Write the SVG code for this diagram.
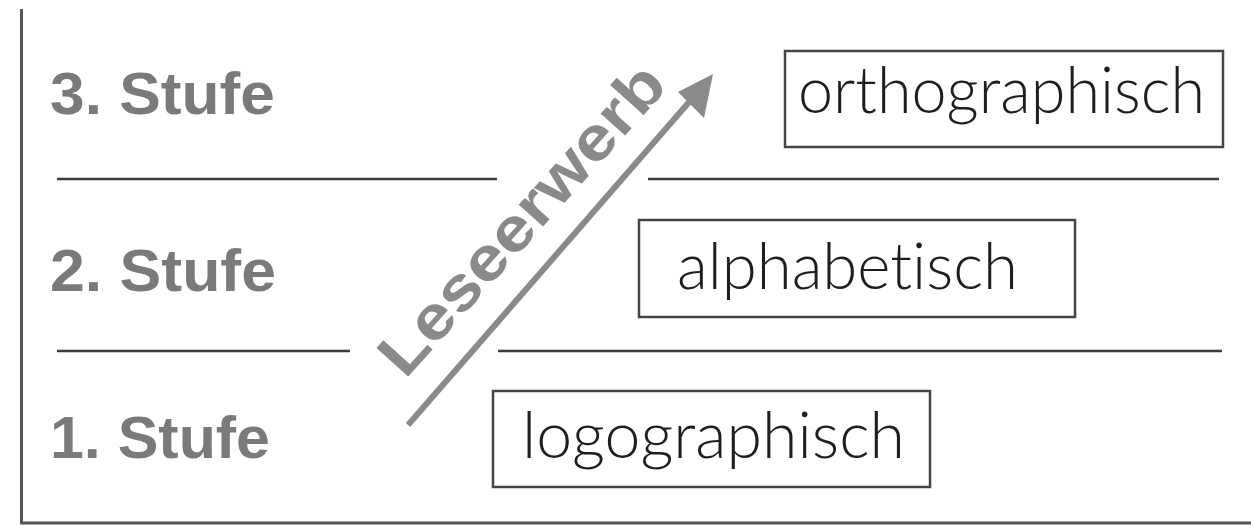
<svg xmlns="http://www.w3.org/2000/svg" width="1251" height="525" viewBox="0 0 1251 525">
<style>
.frame{stroke:#555;stroke-width:3;fill:none}
.sep{stroke:#3a3a3a;stroke-width:2.5;fill:none}
.box{fill:#fff;stroke:#444;stroke-width:2.5}
.lbl{font-family:"Liberation Sans",Arial,sans-serif;font-weight:bold;font-size:60px;fill:#7a7a7a}
.word{font-family:Lato,"Liberation Sans",Arial,sans-serif;font-weight:300;font-size:66px;fill:#1e1e1e;font-variant-ligatures:none;font-feature-settings:"liga" 0,"clig" 0,"dlig" 0}
.arr{stroke:#8a8a8a;stroke-width:6;fill:none}
.arrtxt{font-family:"Liberation Sans",Arial,sans-serif;font-weight:bold;font-size:62px;fill:#8a8a8a}
</style>
<rect width="1251" height="525" fill="#fff"/>
<g id="frame">
<path class="frame" d="M21.5 9 V523 H1251"/>
</g>
<g id="separators">
<line class="sep" x1="57" y1="179" x2="497" y2="179"/>
<line class="sep" x1="648" y1="179" x2="1219" y2="179"/>
<line class="sep" x1="57" y1="351" x2="350" y2="351"/>
<line class="sep" x1="498" y1="351" x2="1222" y2="351"/>
</g>
<g id="stufe3"><text class="lbl" x="50" y="114" textLength="225" lengthAdjust="spacingAndGlyphs">3. Stufe</text></g>
<g id="stufe2"><text class="lbl" x="50" y="291" textLength="226" lengthAdjust="spacingAndGlyphs">2. Stufe</text></g>
<g id="stufe1"><text class="lbl" x="50" y="458" textLength="220" lengthAdjust="spacingAndGlyphs">1. Stufe</text></g>
<g id="orthographisch">
<rect class="box" x="785" y="51" width="438" height="96"/>
<text class="word" x="798" y="113" textLength="407" lengthAdjust="spacingAndGlyphs">orthographisch</text>
</g>
<g id="alphabetisch">
<rect class="box" x="639" y="220" width="436" height="97"/>
<text class="word" x="677" y="289" textLength="341" lengthAdjust="spacingAndGlyphs">alphabetisch</text>
</g>
<g id="logographisch">
<rect class="box" x="493" y="391" width="437" height="96"/>
<text class="word" x="522" y="458" textLength="383" lengthAdjust="spacingAndGlyphs">logographisch</text>
</g>
<g id="connectors">
<line class="arr" x1="408" y1="425" x2="690" y2="101"/>
<polygon points="713,74 678,92 704,118" fill="#8a8a8a"/>
</g>
<g id="leseerwerb">
<text class="arrtxt" transform="translate(405,380) rotate(-48)" x="0" y="0" textLength="395" lengthAdjust="spacingAndGlyphs">Leseerwerb</text>
</g>
</svg>
